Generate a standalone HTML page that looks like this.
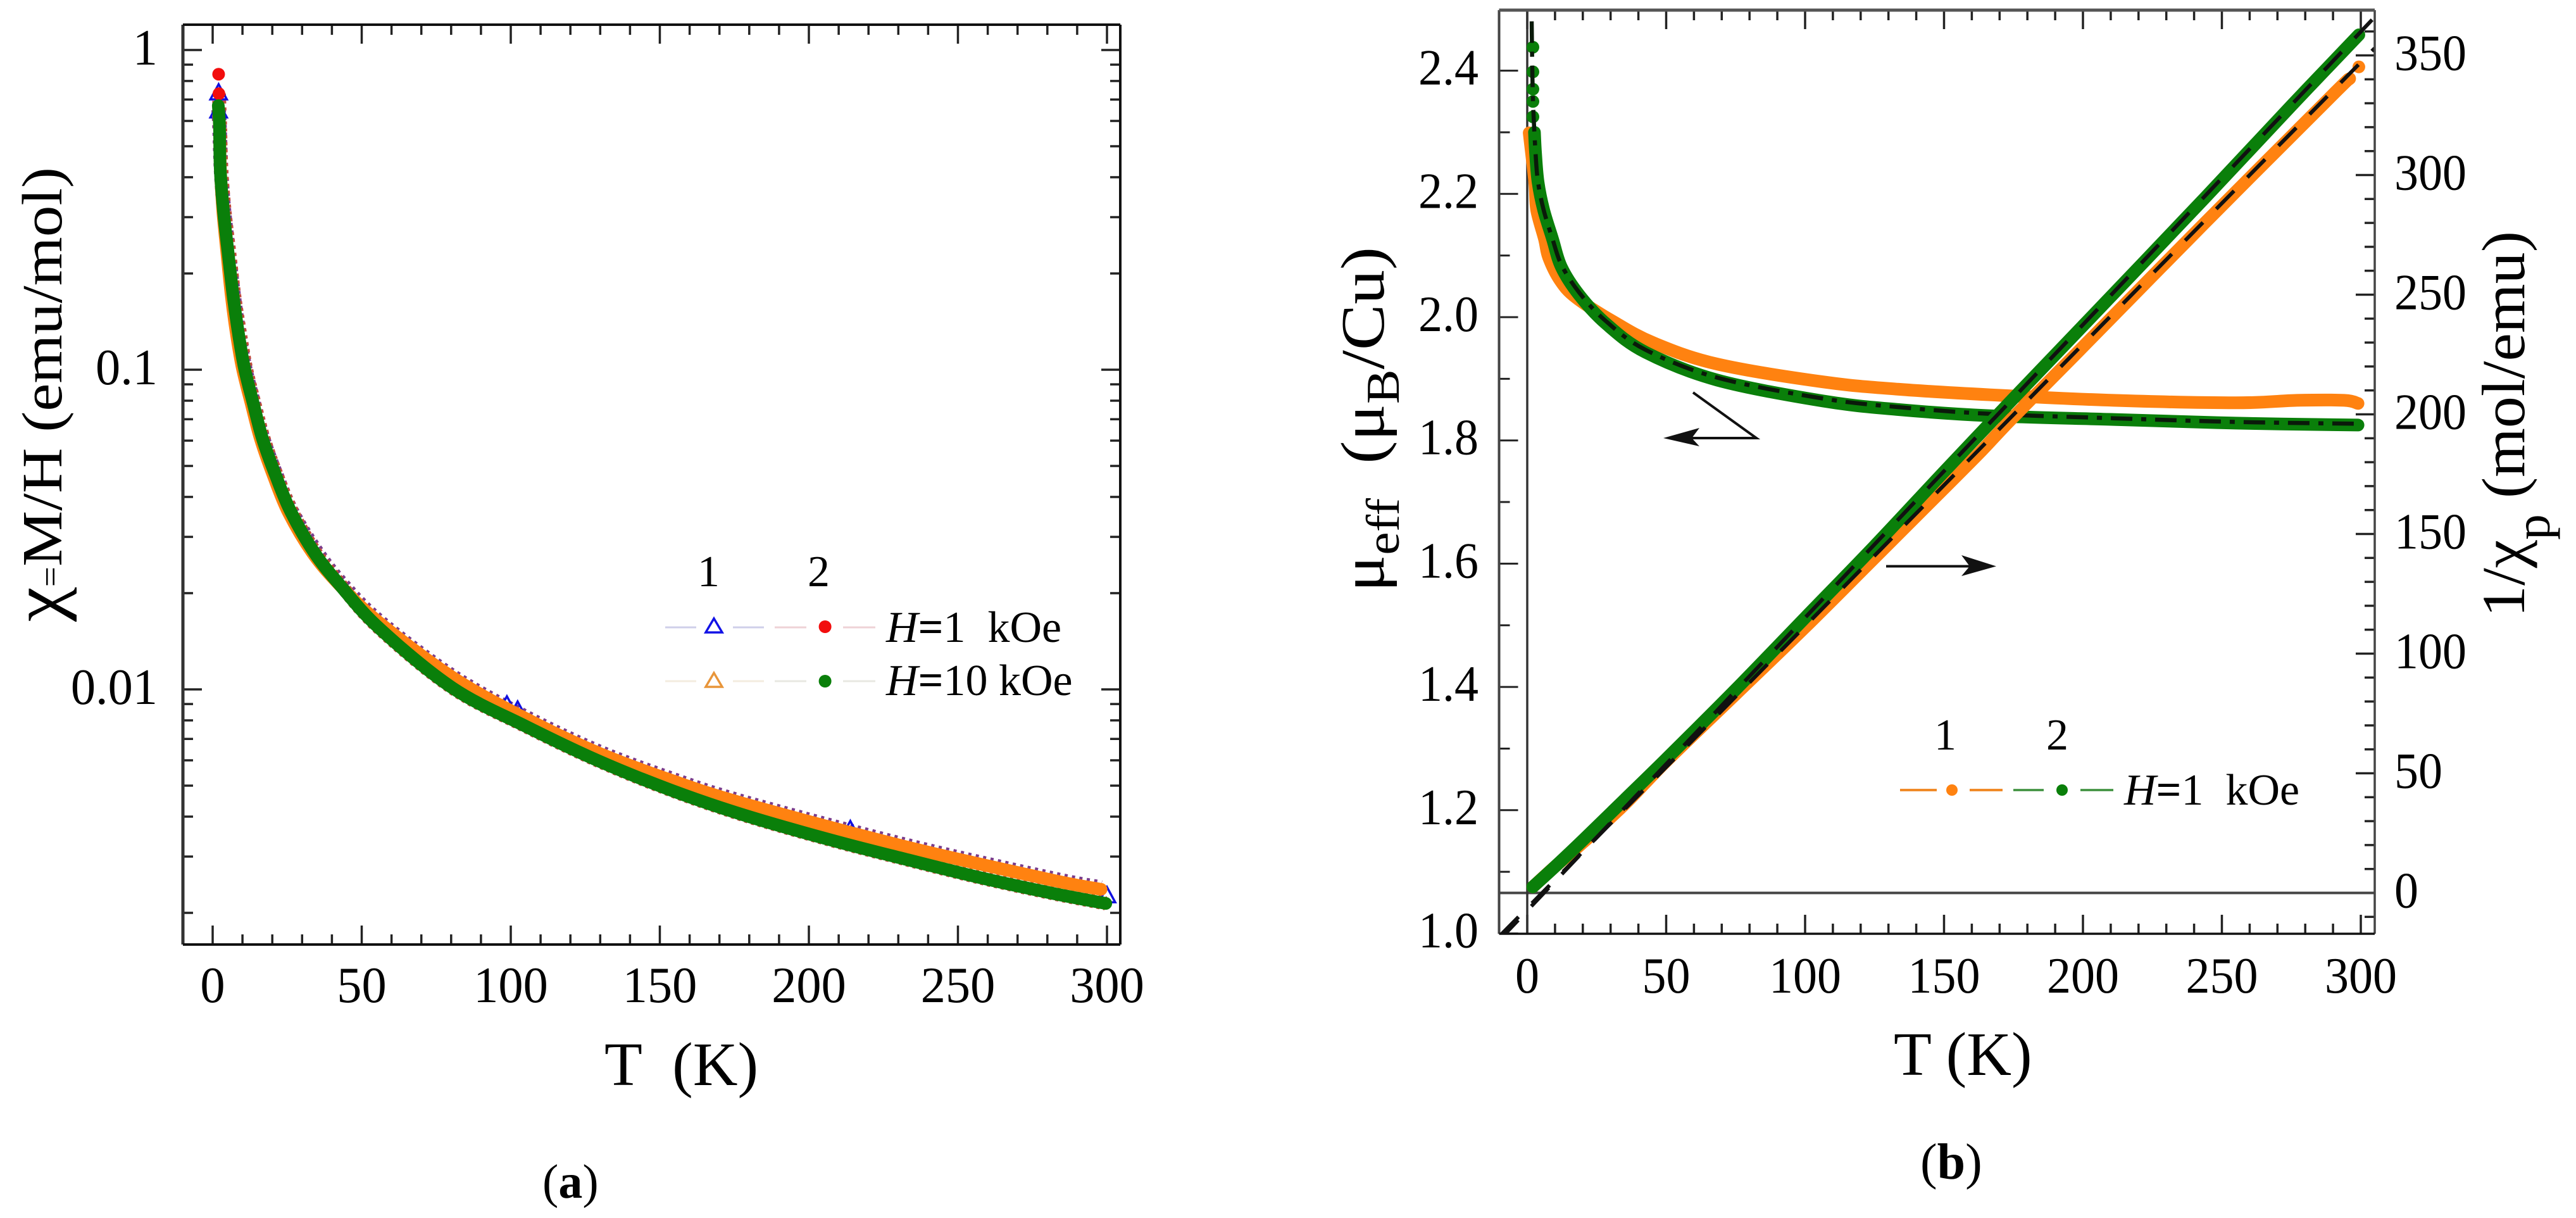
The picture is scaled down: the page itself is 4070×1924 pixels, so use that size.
<!DOCTYPE html>
<html lang="en">
<head>
<meta charset="utf-8">
<title>Magnetic susceptibility and effective moment versus temperature</title>
<style>
html,body{margin:0;padding:0;background:#fff}
svg{display:block}
text{font-family:"Liberation Serif","DejaVu Serif",serif;fill:#000}
</style>
</head>
<body>
<svg id="fig" xmlns="http://www.w3.org/2000/svg" width="4070" height="1924" viewBox="0 0 4070 1924">
  <defs>
    <clipPath id="clip-b"><rect x="2368" y="16" width="1384" height="1458"/></clipPath>
  </defs>
  <rect width="4070" height="1924" fill="#fff"/>
  <g id="panel-a"></g>
  <g id="panel-b"></g>

  <text transform="translate(97,982) rotate(-90)" font-size="90" textLength="718" lengthAdjust="spacingAndGlyphs"><tspan font-size="112">χ</tspan><tspan font-size="52">=</tspan>M/H (emu/mol)</text>
  <text x="955" y="1714" font-size="98" xml:space="preserve">T  (K)</text>
  <text x="857" y="1892" font-size="76">(<tspan font-weight="bold">a</tspan>)</text>

  <text x="1102" y="926" font-size="70">1</text>
  <text x="1276" y="926" font-size="70">2</text>
  <text x="1400" y="1014" font-size="70" xml:space="preserve"><tspan font-style="italic">H</tspan><tspan font-weight="bold">=</tspan>1  kOe</text>
  <text x="1400" y="1098" font-size="70" xml:space="preserve"><tspan font-style="italic">H</tspan><tspan font-weight="bold">=</tspan>10 kOe</text>

  <text transform="translate(2186,935) rotate(-90)" font-size="98" xml:space="preserve" textLength="545" lengthAdjust="spacingAndGlyphs">μ<tspan font-size="74" dy="24">eff</tspan><tspan dy="-24">  (μ</tspan><tspan font-size="74" dy="24">B</tspan><tspan dy="-24">/Cu)</tspan></text>
  <text transform="translate(3988,975) rotate(-90)" font-size="96" textLength="610" lengthAdjust="spacingAndGlyphs" xml:space="preserve">1/χ<tspan font-size="78" dy="40">p</tspan><tspan dy="-40"> (mol/emu)</tspan></text>
  <text x="2992" y="1698" font-size="98">T (K)</text>
  <text x="3034" y="1862" font-size="80">(<tspan font-weight="bold">b</tspan>)</text>

  <text x="3056" y="1184" font-size="70">1</text>
  <text x="3233" y="1184" font-size="70">2</text>
  <text x="3356" y="1271" font-size="70" xml:space="preserve"><tspan font-style="italic">H</tspan><tspan font-weight="bold">=</tspan>1  kOe</text>
</svg>

<script>
// ---------- Panel (a) data ----------
const aXTickLabels = [0, 50, 100, 150, 200, 250, 300];
const aYTickValues = [1, 0.1, 0.01];
const aYTickLabels = ['1', '0.1', '0.01'];
const aGreenT = [1.9, 2.3, 2.55, 3.6, 5.1, 6.8, 8.5, 10.6, 13.6, 16.8, 21.2, 26.3, 34.2, 42.7, 56, 80.5, 105, 129, 153.5, 178, 207.9, 232, 256.5, 281, 299.6];
const aGreenChi = [0.67, 0.576, 0.424, 0.314, 0.2357, 0.172, 0.1327, 0.1018, 0.0785, 0.0605, 0.0465, 0.0358, 0.0267, 0.0212, 0.0155, 0.0101, 0.00767, 0.0060, 0.00485, 0.00405, 0.00337, 0.00295, 0.00259, 0.00231, 0.00214];
const aRedT = [2.1, 2.5, 2.9, 4, 5.5, 7.2, 9, 11.1, 14, 17.2, 21.6, 26.7, 34.6, 43, 56, 80.5, 105, 129, 153.5, 178, 207.9, 232, 256.5, 281, 299.6];
const aRedChi = [0.73, 0.576, 0.424, 0.314, 0.2357, 0.172, 0.1327, 0.1018, 0.0785, 0.0605, 0.0465, 0.0358, 0.0267, 0.0212, 0.0155, 0.0101, 0.00767, 0.0060, 0.00485, 0.00405, 0.00337, 0.00295, 0.00259, 0.00231, 0.00214];
const aOrangeT = [2, 2.3, 2.6, 3.4, 4.7, 6.2, 7.8, 9.9, 12.9, 16.1, 20.4, 25.4, 33.4, 42.4, 56, 80.5, 105, 129, 153.5, 178, 232, 281, 298];
const aOrangeChi = [0.62, 0.576, 0.424, 0.314, 0.2357, 0.172, 0.1327, 0.1018, 0.0785, 0.0605, 0.0465, 0.0358, 0.0268, 0.0213, 0.01614, 0.0109, 0.00811, 0.00635, 0.00521, 0.0044, 0.00323, 0.00254, 0.00237];
const aBlueT = [2, 2.3, 2.8, 3.8, 5.3, 7, 8.7, 10.8, 13.8, 17, 21.5, 26.6, 34.6, 43, 56, 80.5, 105, 129, 153.5, 178, 232, 281, 298];
const aBlueChi = [0.65, 0.576, 0.424, 0.314, 0.2357, 0.172, 0.1327, 0.1018, 0.0785, 0.0605, 0.0465, 0.0360, 0.0272, 0.0216, 0.0163, 0.011, 0.0082, 0.00642, 0.00527, 0.00445, 0.00327, 0.00257, 0.0024];
const aBlueMarkerT = [2, 2, 98.7, 102.3, 213.9, 300];
const aBlueMarkerChi = [0.74, 0.65, 0.00901, 0.00868, 0.00367, 0.00228];
const aRedDotT = [2, 2.1];
const aRedDotChi = [0.84, 0.73];

// ---------- Panel (b) data ----------
const bXTickLabels = [0, 50, 100, 150, 200, 250, 300];
const bMuTickLabels = ['1.0', '1.2', '1.4', '1.6', '1.8', '2.0', '2.2', '2.4'];
const bInvTickLabels = [0, 50, 100, 150, 200, 250, 300, 350];
const muGreenDotT = [2.05, 2.05, 2.05, 2.05, 2.05];
const muGreenDotVal = [2.438, 2.398, 2.37, 2.35, 2.325];
const muGreenT = [2.6, 3, 3.9, 5.9, 9.1, 12.3, 18.7, 28.2, 42.6, 68.3, 106.4, 133.7, 166.7, 211, 255, 299];
const muGreenVal = [2.3, 2.265, 2.219, 2.174, 2.127, 2.081, 2.036, 1.99, 1.943, 1.898, 1.864, 1.85, 1.84, 1.834, 1.828, 1.825];
const muOrangeT = [0.7, 2.7, 3.4, 6.2, 7.7, 11.8, 17.5, 30.5, 45.6, 68.3, 106.4, 133.7, 166.7, 211, 255, 277, 294, 299];
const muOrangeVal = [2.299, 2.219, 2.174, 2.127, 2.097, 2.06, 2.032, 1.994, 1.958, 1.924, 1.895, 1.883, 1.874, 1.865, 1.861, 1.865, 1.865, 1.86];
const muFitT = [1.6, 2, 3, 3.9, 5.9, 9.1, 12.3, 18.7, 28.2, 42.6, 68.3, 106.4, 133.7, 166.7, 211, 255, 299];
const muFitVal = [2.48, 2.36, 2.265, 2.219, 2.174, 2.127, 2.085, 2.04, 1.994, 1.947, 1.902, 1.868, 1.854, 1.843, 1.836, 1.83, 1.827];
const invGreenT = [2, 10, 20, 35, 50, 75, 100, 125, 150, 172.4, 200, 244, 275, 299.3];
const invGreenVal = [2.5, 11, 22, 39, 56, 85, 115, 145, 176, 203.5, 237, 290.6, 329, 358.6];
const invOrangeT = [2, 10, 20, 35, 50, 75, 100, 125, 150, 163.5, 174.5, 197.8, 243, 289.4, 296];
const invOrangeVal = [2.5, 11, 21, 37, 55, 83, 111, 140, 169, 184.8, 198.3, 225.6, 279, 333, 340.3];
const invOrangeEndT = [299.3];
const invOrangeEndVal = [345.2];
const invFitOrangeT = [-9.5, 305];
const invFitOrangeVal = [-17.5, 353];
const invFitGreenT = [-9.5, 305];
const invFitGreenVal = [-19, 366];

// ---------- Scales ----------
const xA = t => 336 + 4.71 * t;
const yA = v => 79 - 505 * Math.log10(v);
const xB = t => 2413 + 4.39 * t;
const yMu = v => 1474.5 - 973.5 * (v - 1);
const yInv = v => 1410.5 - 3.78 * v;

const NS = 'http://www.w3.org/2000/svg';
const panelA = document.getElementById('panel-a');
const panelB = document.getElementById('panel-b');
const GREEN = '#0a7f0a', ORANGE = '#ff8210', RED = '#f20d0d', BLUE = '#1010e0';

function line(parent, name, x1, y1, x2, y2, stroke, width) {
  const el = document.createElementNS(NS, 'line');
  
  
  el.setAttribute('x1', x1);
  el.setAttribute('y1', y1);
  el.setAttribute('x2', x2);
  el.setAttribute('y2', y2);
  el.setAttribute('stroke', stroke);
  el.setAttribute('stroke-width', width);
  parent.appendChild(el);
  return el;
}
function label(parent, name, x, y, txt, anchor, sx) {
  const el = document.createElementNS(NS, 'text');
  
  
  el.setAttribute('transform', 'translate(' + x + ',' + y + ') scale(' + sx + ',1)');
  el.setAttribute('text-anchor', anchor);
  el.setAttribute('font-size', 80);
  el.textContent = txt;
  parent.appendChild(el);
}
function smoothPath(px, py) {
  let d = 'M' + px[0].toFixed(1) + ' ' + py[0].toFixed(1);
  for (let i = 0; i < px.length - 1; i++) {
    const a = Math.max(i - 1, 0), b = Math.min(i + 2, px.length - 1);
    const c1x = px[i] + (px[i + 1] - px[a]) / 6, c1y = py[i] + (py[i + 1] - py[a]) / 6;
    const c2x = px[i + 1] - (px[b] - px[i]) / 6, c2y = py[i + 1] - (py[b] - py[i]) / 6;
    d += 'C' + c1x.toFixed(1) + ' ' + c1y.toFixed(1) + ' ' + c2x.toFixed(1) + ' ' + c2y.toFixed(1) + ' ' + px[i + 1].toFixed(1) + ' ' + py[i + 1].toFixed(1);
  }
  return d;
}
function curve(parent, name, ts, vs, fx, fy, stroke, width, dash) {
  const el = document.createElementNS(NS, 'path');
  
  
  el.setAttribute('d', smoothPath(ts.map(fx), vs.map(fy)));
  el.setAttribute('fill', 'none');
  el.setAttribute('stroke', stroke);
  el.setAttribute('stroke-width', width);
  el.setAttribute('stroke-linecap', dash ? 'butt' : 'round');
  el.setAttribute('stroke-linejoin', 'round');
  if (dash) el.setAttribute('stroke-dasharray', dash);
  parent.appendChild(el);
  return el;
}
function dot(parent, name, cx, cy, r, fill) {
  const el = document.createElementNS(NS, 'ellipse');
  
  
  el.setAttribute('cx', cx);
  el.setAttribute('cy', cy);
  el.setAttribute('rx', r);
  el.setAttribute('ry', r);
  el.setAttribute('fill', fill);
  parent.appendChild(el);
}
function triangle(parent, name, cx, cy, w, h, stroke, sw, fill) {
  const el = document.createElementNS(NS, 'polygon');
  
  
  el.setAttribute('points', cx + ',' + (cy - h / 2) + ' ' + (cx + w / 2) + ',' + (cy + h / 2) + ' ' + (cx - w / 2) + ',' + (cy + h / 2));
  el.setAttribute('fill', fill);
  el.setAttribute('stroke', stroke);
  el.setAttribute('stroke-width', sw);
  parent.appendChild(el);
}

// ---------- Panel (a) ----------
const aL = 289, aR = 1770, aT = 39, aB = 1492;
for (let t = 0; t <= 300; t += 10) {
  const major = t % 50 === 0, len = major ? 30 : 16;
  line(panelA, 'x-tick-bottom', xA(t), aB, xA(t), aB - len, '#222', 3.5);
  line(panelA, 'x-tick-top', xA(t), aT, xA(t), aT + len, '#222', 3.5);
}
[1, 0.1, 0.01, 0.001].forEach(dec => {
  for (let m = 1; m <= 9; m++) {
    const v = dec * m;
    if (v > 1 || yA(v) > aB) continue;
    const len = m === 1 ? 30 : 16;
    line(panelA, 'y-tick-left', aL, yA(v), aL + len, yA(v), '#222', 3.5);
    line(panelA, 'y-tick-right', aR, yA(v), aR - len, yA(v), '#222', 3.5);
  }
});
curve(panelA, 'series-1-1koe-blue', aBlueT, aBlueChi, xA, yA, '#7a3c8c', 23, '5 7');
curve(panelA, 'series-2-1koe-red', aRedT, aRedChi, xA, yA, '#c04a3a', 22, '5 6');
aBlueMarkerT.forEach((t, i) => {
  triangle(panelA, 'blue-triangle-point', xA(t), yA(aBlueMarkerChi[i]), 26, 24, BLUE, 3.5, i < 2 ? '#fff' : 'none');
});
curve(panelA, 'series-1-10koe-orange', aOrangeT, aOrangeChi, xA, yA, ORANGE, 20);
aRedDotT.forEach((t, i) => {
  dot(panelA, 'red-dot-point', xA(t), yA(aRedDotChi[i]), 10, RED);
});
curve(panelA, 'series-2-10koe-green', aGreenT, aGreenChi, xA, yA, GREEN, 20);
line(panelA, 'frame-left', aL, aT, aL, aB, '#333', 5);
line(panelA, 'frame-right', aR, aT, aR, aB, '#111', 4);
line(panelA, 'frame-top', aL, aT, aR, aT, '#111', 4);
line(panelA, 'frame-bottom', aL, aB, aR, aB, '#111', 4);
aXTickLabels.forEach(t => {
  label(panelA, 'x-tick-label', xA(t), 1583, String(t), 'middle', 0.98);
});
aYTickValues.forEach((v, i) => {
  label(panelA, 'y-tick-label', 249, yA(v) + 23, aYTickLabels[i], 'end', 0.98);
});
// legend (a) marks
[[1051, 1100], [1158, 1207]].forEach(s => {
  line(panelA, 'legend-line-blue', s[0], 991, s[1], 991, '#cfcfea', 3);
  line(panelA, 'legend-line-orange', s[0], 1076, s[1], 1076, '#f3ecdf', 3);
});
[[1224, 1274], [1332, 1383]].forEach(s => {
  line(panelA, 'legend-line-red', s[0], 991, s[1], 991, '#eed2d6', 3);
  line(panelA, 'legend-line-green', s[0], 1076, s[1], 1076, '#e8e8e2', 3);
});
triangle(panelA, 'legend-marker-blue-triangle', 1128, 988, 26, 22, '#1212e6', 3.5, '#fff');
triangle(panelA, 'legend-marker-orange-triangle', 1128, 1074, 26, 22, '#e8953a', 3.5, '#fff');
dot(panelA, 'legend-marker-red-dot', 1303.6, 990, 10, RED);
dot(panelA, 'legend-marker-green-dot', 1303.6, 1076, 10, GREEN);

// ---------- Panel (b) ----------
const bL = 2368.5, bR = 3752, bT = 16, bB = 1475;
for (let t = 0; t <= 300; t += 10) {
  const major = t % 50 === 0, len = major ? 30 : 16;
  line(panelB, 'x-tick-bottom', xB(t), bB, xB(t), bB - len, '#222', 3.5);
  line(panelB, 'x-tick-top', xB(t), bT, xB(t), bT + len, '#222', 3.5);
}
for (let i = 0; i <= 14; i++) {
  const v = 1 + i * 0.1, major = i % 2 === 0;
  line(panelB, 'mu-axis-tick', bL, yMu(v), bL + (major ? 30 : 17), yMu(v), '#222', 3);
}
for (let v = -10; v <= 360; v += 10) {
  const major = v % 50 === 0;
  line(panelB, 'inverse-chi-axis-tick', bR, yInv(v), bR - (major ? 30 : 16), yInv(v), '#222', 3.5);
}
line(panelB, 'zero-line-horizontal', bL, yInv(0), bR, yInv(0), '#444', 4);
line(panelB, 'zero-line-vertical', xB(0), bT, xB(0), bB, '#333', 3.5);

const clipped = document.createElementNS(NS, 'g');


clipped.setAttribute('clip-path', 'url(#clip-b)');
panelB.appendChild(clipped);

curve(clipped, 'mu-series-1-orange', muOrangeT, muOrangeVal, xB, yMu, ORANGE, 20);
curve(clipped, 'mu-series-2-green', muGreenT, muGreenVal, xB, yMu, GREEN, 20);
muGreenDotT.forEach((t, i) => {
  dot(clipped, 'mu-green-point', xB(t), yMu(muGreenDotVal[i]), 10, GREEN);
});
curve(clipped, 'mu-fit-dash-dot', muFitT, muFitVal, xB, yMu, '#0a1a0a', 6.5, '34 14 8 14');
curve(clipped, 'inverse-chi-series-1-orange', invOrangeT, invOrangeVal, xB, yInv, ORANGE, 20);
invOrangeEndT.forEach((t, i) => {
  dot(clipped, 'inverse-chi-orange-end-point', xB(t), yInv(invOrangeEndVal[i]), 10, ORANGE);
});
curve(clipped, 'inverse-chi-series-2-green', invGreenT, invGreenVal, xB, yInv, GREEN, 20);
curve(clipped, 'inverse-chi-fit-orange', invFitOrangeT, invFitOrangeVal, xB, yInv, '#111', 6, '40 30');
curve(clipped, 'inverse-chi-fit-green', invFitGreenT, invFitGreenVal, xB, yInv, '#111', 6, '40 30');

line(panelB, 'frame-left', bL, bT, bL, bB, '#444', 4);
line(panelB, 'frame-right', bR, bT, bR, bB, '#444', 3.5);
line(panelB, 'frame-top', bL, bT, bR, bT, '#555', 5);
line(panelB, 'frame-bottom', bL, bB, bR, bB, '#111', 3.5);

bXTickLabels.forEach(t => {
  label(panelB, 'x-tick-label', xB(t), 1568, String(t), 'middle', 0.95);
});
bMuTickLabels.forEach(s => {
  label(panelB, 'mu-tick-label', 2336, yMu(parseFloat(s)) + 22, s, 'end', 0.95);
});
bInvTickLabels.forEach(v => {
  label(panelB, 'inverse-chi-tick-label', 3783, yInv(v) + 23, String(v), 'start', 0.95);
});

// arrows
function arrow(name, pts, head) {
  const p = document.createElementNS(NS, 'polyline');
  
  
  p.setAttribute('points', pts);
  p.setAttribute('fill', 'none');
  p.setAttribute('stroke', '#111');
  p.setAttribute('stroke-width', 4);
  panelB.appendChild(p);
  const h = document.createElementNS(NS, 'polygon');
  
  
  h.setAttribute('points', head);
  h.setAttribute('fill', '#111');
  panelB.appendChild(h);
}
arrow('arrow-left-to-mu-axis', '2675,620 2775,692 2640,692', '2628,692 2685,676 2673,692 2685,705');
arrow('arrow-right-to-inverse-chi-axis', '2980,894.5 3145,894.5', '3154,894.5 3099,877 3112,894.5 3099,910');

// legend (b) marks
[[3002, 3060], [3112, 3164]].forEach(s => {
  line(panelB, 'legend-line-orange', s[0], 1248, s[1], 1248, '#f08a28', 4);
});
[[3181, 3229], [3287, 3339]].forEach(s => {
  line(panelB, 'legend-line-green', s[0], 1248, s[1], 1248, '#3c8f3c', 3.5);
});
dot(panelB, 'legend-marker-orange-dot', 3084, 1248, 9, ORANGE);
dot(panelB, 'legend-marker-green-dot', 3258, 1248, 9, GREEN);
</script>
</body>
</html>
